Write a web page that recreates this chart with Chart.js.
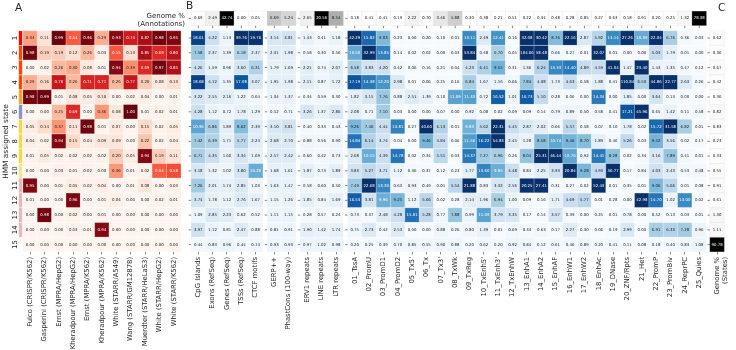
<!DOCTYPE html>
<html>
<head>
<meta charset="utf-8">
<title>HMM state enrichment</title>
<script src="https://cdn.jsdelivr.net/npm/chart.js@4"></script>
<style>
  html, body { margin: 0; padding: 0; background: #fff; }
  canvas { display: block; }
</style>
</head>
<body>
<canvas id="heatmap" width="736" height="350"></canvas>
<script>
// ===================== DATA =====================
const stateLabels = ["1", "2", "3", "4", "5", "6", "7", "8", "9", "10", "11", "12", "13", "14", "15"];
const stateColors = ["#ff0000", "#ff4500", "#ff4500", "#ff4500", "#ffa020", "#8a91d0", "#f8d648", "#f8d648", "#f8d648", "#eee88c", "#e6b8b7", "#e6b8b7", "#e6b8b7", "#e6b8b7", "#ffffff"];

const assayLabels = ["Fulco (CRISPR/K562)", "Gasperini (CRISPR/K562)", "Ernst (MPRA/HepG2)", "Kheradpour (MPRA/HepG2)", "Ernst (MPRA/K562)", "Kheradpour (MPRA/K562)", "White (STARR/A549)", "Wang (STARR/GM12878)", "Muerdter (STARR/HeLaS3)", "White (STARR/HepG2)", "White (STARR/K562)"];
const geneLabels = ["CpG Islands", "Exons (RefSeq)", "Genes (RefSeq)", "TSSs (RefSeq)", "CTCF motifs"];
const consLabels = ["GERP++", "PhastCons (100-way)"];
const repeatLabels = ["ERV1 repeats", "LINE repeats", "LTR repeats"];
const chromLabels = ["01_TssA", "02_PromU", "03_PromD1", "04_PromD2", "05_Tx5'", "06_Tx", "07_Tx3'", "08_TxWk", "09_TxReg", "10_TxEnh5'", "11_TxEnh3'", "12_TxEnhW", "13_EnhA1", "14_EnhA2", "15_EnhAF", "16_EnhW1", "17_EnhW2", "18_EnhAc", "19_DNase", "20_ZNF/Rpts", "21_Het", "22_PromP", "23_PromBiv", "24_ReprPC", "25_Quies"];
const statesLabel = ["Genome %", "(States)"];

const assayValues = [
  [0.34, 0.11, 0.99, 0.54, 0.96, 0.29, 0.93, 0.74, 0.87, 0.98, 0.95],
  [0.98, 0.19, 0.19, 0.12, 0.26, 0.03, 0.55, 0.13, 0.85, 0.69, 0.80],
  [0.00, 0.02, 0.26, 0.30, 0.08, 0.01, 0.94, 0.39, 0.69, 0.97, 0.85],
  [0.29, 0.16, 0.76, 0.26, 0.71, 0.71, 0.26, 0.77, 0.20, 0.08, 0.13],
  [0.98, 0.99, 0.01, 0.08, 0.05, 0.10, 0.00, 0.02, 0.04, 0.00, 0.01],
  [0.00, 0.00, 0.25, 0.69, 0.00, 0.36, 0.08, 1.00, 0.01, 0.02, 0.01],
  [0.05, 0.14, 0.37, 0.11, 0.98, 0.01, 0.07, 0.00, 0.15, 0.02, 0.05],
  [0.04, 0.02, 0.94, 0.15, 0.04, 0.09, 0.09, 0.00, 0.22, 0.02, 0.04],
  [0.01, 0.05, 0.02, 0.02, 0.02, 0.02, 0.20, 0.05, 0.94, 0.19, 0.11],
  [0.00, 0.00, 0.03, 0.01, 0.02, 0.00, 0.36, 0.01, 0.02, 0.54, 0.58],
  [0.95, 0.00, 0.01, 0.05, 0.02, 0.04, 0.00, 0.01, 0.08, 0.00, 0.03],
  [0.01, 0.00, 0.00, 0.96, 0.00, 0.01, 0.04, 0.00, 0.00, 0.02, 0.01],
  [0.00, 0.98, 0.00, 0.02, 0.00, 0.01, 0.00, 0.00, 0.00, 0.00, 0.00],
  [0.00, 0.00, 0.00, 0.03, 0.01, 0.94, 0.00, 0.00, 0.00, 0.00, 0.00],
  [0.00, 0.00, 0.00, 0.00, 0.00, 0.00, 0.00, 0.00, 0.00, 0.00, 0.00]
];

const geneValues = [
  [18.61, 4.22, 1.13, 39.76, 19.76],
  [7.58, 2.37, 1.39, 6.18, 2.37],
  [4.26, 1.59, 0.96, 3.60, 6.31],
  [18.68, 4.12, 1.35, 17.08, 3.07],
  [3.22, 2.55, 2.16, 1.22, 0.64],
  [4.28, 1.12, 0.72, 1.78, 1.29],
  [10.96, 6.86, 1.89, 8.62, 2.39],
  [7.42, 6.39, 1.71, 5.77, 2.24],
  [6.71, 4.35, 1.60, 3.34, 1.69],
  [3.18, 1.32, 1.02, 3.80, 10.20],
  [7.26, 2.01, 1.74, 2.85, 1.03],
  [3.74, 1.78, 1.12, 2.76, 1.67],
  [1.09, 2.85, 2.23, 0.62, 0.52],
  [3.97, 1.12, 0.81, 2.47, 0.88],
  [0.44, 0.83, 0.96, 0.44, 0.74]
];

const consValues = [
  [3.14, 3.81], [2.31, 1.98], [1.79, 1.69], [1.95, 1.98], [1.34, 1.37],
  [0.52, 0.71], [3.10, 3.81], [2.68, 2.70], [2.57, 2.42], [1.68, 1.61],
  [1.63, 1.47], [1.15, 1.26], [1.11, 1.15], [0.81, 0.91], [0.93, 0.93]
];

const repeatValues = [
  [1.43, 0.41, 1.18], [0.58, 0.30, 0.56], [2.21, 0.74, 2.07], [2.11, 0.87, 1.72], [0.34, 0.59, 0.30],
  [3.26, 1.37, 2.86], [0.40, 0.33, 0.43], [0.88, 0.56, 0.90], [0.60, 0.42, 0.73], [1.87, 0.73, 1.89],
  [0.58, 0.60, 0.50], [1.85, 0.84, 1.69], [0.28, 0.57, 0.24], [1.90, 1.42, 1.74], [0.97, 1.02, 0.98]
];

const chromValues = [
  [42.29, 15.82, 9.03, 0.23, 0.00, 0.20, 0.10, 0.01, 13.11, 2.49, 12.41, 0.16, 32.08, 30.42, 8.76, 22.16, 2.87, 5.92, 13.14, 27.26, 10.39, 22.04, 6.76, 0.36, 0.03],
  [10.50, 32.99, 13.85, 0.14, 0.02, 0.02, 0.00, 0.03, 53.84, 0.48, 6.70, 0.05, 104.06, 58.48, 0.66, 0.27, 0.01, 32.07, 0.01, 0.00, 0.00, 5.03, 1.79, 0.01, 0.00],
  [6.58, 3.83, 4.20, 0.42, 0.06, 0.16, 0.21, 0.04, 4.23, 6.41, 9.55, 0.31, 1.36, 6.24, 13.33, 14.40, 4.89, 4.59, 41.04, 1.47, 23.40, 1.43, 1.35, 0.47, 0.12],
  [17.19, 14.38, 12.20, 2.98, 0.01, 0.06, 0.25, 0.16, 6.84, 1.67, 1.16, 0.66, 7.84, 4.08, 1.73, 4.63, 0.58, 1.88, 0.41, 110.84, 6.50, 44.86, 22.77, 2.63, 0.26],
  [1.82, 3.15, 7.76, 0.88, 2.51, 1.39, 0.10, 11.09, 11.33, 0.72, 16.52, 1.01, 16.73, 5.10, 0.28, 0.06, 0.00, 14.34, 0.00, 1.85, 0.00, 3.64, 0.13, 0.00, 0.00],
  [2.08, 0.71, 7.10, 0.03, 0.00, 0.00, 0.07, 0.00, 0.92, 0.08, 0.02, 0.09, 0.09, 0.14, 0.79, 0.89, 0.50, 0.58, 0.41, 17.21, 45.96, 0.65, 1.42, 0.11, 0.58],
  [9.26, 7.46, 4.44, 13.81, 0.27, 40.60, 6.13, 0.01, 9.83, 5.62, 22.31, 4.45, 2.87, 2.02, 0.66, 5.57, 0.58, 0.07, 0.10, 1.78, 0.02, 15.72, 31.58, 6.82, 0.01],
  [14.84, 6.14, 3.74, 0.04, 0.00, 9.46, 4.84, 0.06, 11.56, 16.22, 54.83, 2.45, 1.28, 8.58, 10.74, 9.46, 8.70, 1.89, 0.46, 5.26, 0.03, 9.52, 3.56, 0.02, 0.17],
  [2.68, 10.15, 4.39, 14.78, 0.02, 0.34, 5.51, 0.03, 14.37, 7.27, 6.96, 0.26, 8.04, 25.31, 46.44, 10.76, 0.92, 14.41, 8.28, 0.02, 0.34, 3.16, 7.89, 0.41, 0.01],
  [3.83, 5.27, 3.71, 1.12, 0.36, 0.37, 0.12, 0.23, 1.77, 13.60, 9.95, 4.48, 0.84, 2.25, 3.93, 20.84, 9.28, 4.93, 36.77, 0.17, 0.84, 4.03, 2.43, 0.53, 0.48],
  [7.49, 22.68, 13.30, 0.63, 0.93, 0.49, 0.01, 5.54, 21.88, 0.83, 3.32, 2.56, 20.25, 27.41, 0.31, 0.27, 0.02, 52.43, 0.01, 0.35, 0.01, 9.06, 5.66, 0.01, 0.08],
  [16.53, 3.81, 9.96, 9.25, 1.12, 5.66, 0.02, 0.28, 2.14, 1.96, 6.94, 1.00, 0.09, 0.16, 1.71, 4.69, 5.77, 0.01, 0.28, 0.00, 42.98, 14.70, 1.02, 13.00, 0.02],
  [0.73, 0.37, 2.48, 4.28, 15.01, 5.28, 0.77, 7.88, 0.99, 11.09, 3.79, 3.35, 0.17, 0.14, 3.57, 0.39, 0.00, 0.25, 0.01, 0.78, 0.00, 0.52, 0.13, 0.03, 0.01],
  [0.75, 2.73, 0.42, 2.53, 0.00, 0.00, 0.88, 0.26, 0.80, 1.39, 0.01, 0.69, 0.34, 0.63, 0.17, 2.27, 0.30, 0.06, 0.19, 2.99, 0.00, 6.91, 6.33, 7.28, 0.96],
  [0.20, 0.25, 0.39, 0.70, 0.85, 0.55, 0.90, 0.88, 0.20, 0.62, 0.20, 0.92, 0.84, 0.12, 0.61, 0.46, 0.89, 0.20, 0.41, 0.11, 0.08, 0.18, 0.40, 0.83, 1.08]
];

// Genome % of each annotation (top strip) and of each state (right strip)
const geneGenome = [0.69, 2.49, 42.74, 0.00, 0.05];
const consGenome = [6.69, 5.24];
const repeatGenome = [2.65, 20.56, 8.54];
const chromGenome = [0.18, 0.41, 0.41, 0.19, 2.22, 0.70, 3.46, 5.88, 0.30, 0.38, 0.21, 0.51, 0.22, 0.34, 0.48, 0.28, 0.85, 0.27, 0.63, 0.18, 0.91, 0.20, 0.25, 1.32, 78.38];
const stateGenome = [0.62, 0.36, 0.67, 0.42, 0.36, 0.82, 0.83, 0.23, 0.33, 0.55, 0.91, 0.61, 1.30, 1.11, 90.78];

// ===================== COLOUR MAPS =====================
const REDS = ["#fff5f0", "#fee0d2", "#fcbba1", "#fc9272", "#fb6a4a", "#ef3b2c", "#cb181d", "#a50f15", "#67000d"];
const BLUES = ["#f7fbff", "#deebf7", "#c6dbef", "#9ecae1", "#6baed6", "#4292c6", "#2171b5", "#08519c", "#08306b"];
const GREYS = ["#ffffff", "#f0f0f0", "#d9d9d9", "#bdbdbd", "#969696", "#737373", "#525252", "#252525", "#000000"];

function hexToRgb(hex) {
  return [1, 3, 5].map(i => parseInt(hex.slice(i, i + 2), 16));
}

function colorAt(map, t) {
  const pos = Math.min(Math.max(t, 0), 1) * (map.length - 1);
  const i = Math.min(Math.floor(pos), map.length - 2);
  const a = hexToRgb(map[i]);
  const b = hexToRgb(map[i + 1]);
  return a.map((c, k) => Math.round(c + (b[k] - c) * (pos - i)));
}

// same rule seaborn uses to pick the annotation colour
function textColor(rgb) {
  const lin = rgb.map(c => {
    const s = c / 255;
    return s <= 0.03928 ? s / 12.92 : Math.pow((s + 0.055) / 1.055, 2.4);
  });
  const lum = 0.2126 * lin[0] + 0.7152 * lin[1] + 0.0722 * lin[2];
  return lum > 0.408 ? "#1a1a1a" : "#ffffff";
}

// ===================== COLUMN LAYOUT =====================
const ANNOT_ROW = -0.33; // y position of the Genome % strip, in row units
let nextCol = 0;

function takeColumns(count, gap) {
  nextCol += gap;
  const cols = [];
  for (let i = 0; i < count; i++) cols.push(nextCol + i);
  nextCol += count;
  return cols;
}

const assayCols = takeColumns(assayLabels.length, 0);
const geneCols = takeColumns(geneLabels.length, 0.71);
const consCols = takeColumns(consLabels.length, 0.3);
const repeatCols = takeColumns(repeatLabels.length, 0.3);
const chromCols = takeColumns(chromLabels.length, 0.3);
const stateCols = takeColumns(1, 0.24);

const allCols = [...assayCols, ...geneCols, ...consCols, ...repeatCols, ...chromCols, ...stateCols];
const allLabels = [...assayLabels, ...geneLabels, ...consLabels, ...repeatLabels, ...chromLabels, statesLabel];

function matrixPoints(matrix, cols) {
  const points = [];
  matrix.forEach((row, r) => {
    row.forEach((v, c) => points.push({ x: cols[c], y: r + 1, v }));
  });
  return points;
}

function stripPoints(values, cols) {
  return values.map((v, c) => ({ x: cols[c], y: ANNOT_ROW, v }));
}

function cellDataset(points, map, vmax, edge) {
  return {
    data: points,
    pointStyle: "rect",
    pointRadius: 10.3,
    pointHoverRadius: 10.3,
    pointBorderWidth: 0.25,
    pointBorderColor: edge,
    pointBackgroundColor: ctx => {
      const c = colorAt(map, ctx.raw.v / vmax);
      return `rgb(${c[0]}, ${c[1]}, ${c[2]})`;
    },
    clip: false,
    map,
    vmax
  };
}

const datasets = [
  cellDataset(matrixPoints(assayValues, assayCols), REDS, 1, "#ffffff"),
  cellDataset(matrixPoints(geneValues, geneCols), BLUES, 20, "#ffffff"),
  cellDataset(matrixPoints(consValues, consCols), BLUES, 20, "#ffffff"),
  cellDataset(matrixPoints(repeatValues, repeatCols), BLUES, 20, "#ffffff"),
  cellDataset(matrixPoints(chromValues, chromCols), BLUES, 20, "#ffffff"),
  cellDataset(stripPoints(geneGenome, geneCols), GREYS, 20, "#d8d8d8"),
  cellDataset(stripPoints(consGenome, consCols), GREYS, 20, "#d8d8d8"),
  cellDataset(stripPoints(repeatGenome, repeatCols), GREYS, 20, "#d8d8d8"),
  cellDataset(stripPoints(chromGenome, chromCols), GREYS, 20, "#d8d8d8"),
  cellDataset(stateGenome.map((v, r) => ({ x: stateCols[0], y: r + 1, v })), GREYS, 20, "#d8d8d8")
];

// ===================== PLUGINS =====================
// numbers inside the cells
const cellText = {
  id: "cellText",
  afterDatasetsDraw(chart) {
    const ctx = chart.ctx;
    ctx.save();
    ctx.font = '3.9px "DejaVu Sans"';
    ctx.textAlign = "center";
    ctx.textBaseline = "middle";
    chart.data.datasets.forEach((ds, i) => {
      chart.getDatasetMeta(i).data.forEach((pt, j) => {
        const v = ds.data[j].v;
        ctx.fillStyle = textColor(colorAt(ds.map, v / ds.vmax));
        ctx.fillText(v.toFixed(2), pt.x, pt.y);
      });
    });
    ctx.restore();
  }
};

// state colour bar, the small tick marks of the side panels, and the panel texts
const decorations = {
  id: "decorations",
  afterDraw(chart) {
    const ctx = chart.ctx;
    const xs = chart.scales.x;
    const ys = chart.scales.y;
    const half = Math.abs(ys.getPixelForValue(1) - ys.getPixelForValue(0)) / 2;
    const colHalf = Math.abs(xs.getPixelForValue(1) - xs.getPixelForValue(0)) / 2;
    ctx.save();

    // colour bar left of panel A
    const barRight = xs.getPixelForValue(assayCols[0]) - colHalf - 0.8;
    stateColors.forEach((color, r) => {
      const yc = ys.getPixelForValue(r + 1);
      ctx.fillStyle = color;
      ctx.fillRect(barRight - 3.4, yc - half + 0.3, 3.4, half * 2 - 0.6);
    });

    // ticks on the left of each group
    ctx.strokeStyle = "#333333";
    ctx.lineWidth = 0.6;
    ctx.beginPath();
    [geneCols, consCols, repeatCols, chromCols, stateCols].forEach(cols => {
      const px = xs.getPixelForValue(cols[0]) - colHalf;
      stateLabels.forEach((_, r) => {
        const yc = ys.getPixelForValue(r + 1);
        ctx.moveTo(px - 2.4, yc);
        ctx.lineTo(px, yc);
      });
    });
    [geneCols, repeatCols, chromCols].forEach(cols => {
      const px = xs.getPixelForValue(cols[0]) - colHalf;
      const yc = ys.getPixelForValue(ANNOT_ROW);
      ctx.moveTo(px - 2.4, yc);
      ctx.lineTo(px, yc);
    });
    // ticks under the Genome % strip
    const stripBottom = ys.getPixelForValue(ANNOT_ROW) + half;
    [...geneCols, ...consCols, ...repeatCols, ...chromCols].forEach(c => {
      const px = xs.getPixelForValue(c);
      ctx.moveTo(px, stripBottom);
      ctx.lineTo(px, stripBottom + 2.4);
    });
    ctx.stroke();

    ctx.fillStyle = "#262626";
    ctx.textBaseline = "alphabetic";

    ctx.font = '10.5px "DejaVu Sans"';
    ctx.textAlign = "left";
    ctx.fillText("A", 15, 11);
    ctx.fillText("B", 186, 9);
    ctx.fillText("C", 718, 11);

    ctx.font = '7px "DejaVu Sans"';
    ctx.textAlign = "right";
    ctx.fillText("Genome %", 185, 18);
    ctx.fillText("(Annotations)", 185, 26);

    ctx.translate(8, 141.5);
    ctx.rotate(-Math.PI / 2);
    ctx.textAlign = "center";
    ctx.font = '7.4px "DejaVu Sans"';
    ctx.fillText("HMM assigned state", 0, 0);
    ctx.restore();
  }
};

// ===================== CHART =====================
new Chart(document.getElementById("heatmap"), {
  type: "scatter",
  data: { datasets },
  plugins: [cellText, decorations],
  options: {
    responsive: false,
    animation: false,
    events: [],
    layout: { autoPadding: false, padding: { top: 11, right: 2, left: 0, bottom: 0 } },
    plugins: { legend: { display: false }, tooltip: { enabled: false } },
    scales: {
      x: {
        type: "linear",
        min: -0.5,
        max: nextCol - 0.5,
        afterBuildTicks: scale => { scale.ticks = allCols.map(value => ({ value })); },
        afterFit: scale => { scale.height = 98; },
        border: { display: false },
        grid: { drawOnChartArea: false, drawTicks: true, tickLength: 2.4, tickWidth: 0.6, tickColor: "#333333" },
        ticks: {
          autoSkip: false,
          minRotation: 90,
          maxRotation: 90,
          padding: 2.5,
          color: "#262626",
          font: { family: "DejaVu Sans", size: 6.85 },
          callback: (value, i) => allLabels[i]
        }
      },
      y: {
        type: "linear",
        reverse: true,
        min: ANNOT_ROW - 0.5,
        max: stateLabels.length + 0.5,
        afterBuildTicks: scale => { scale.ticks = stateLabels.map((_, r) => ({ value: r + 1 })); },
        afterFit: scale => { scale.width = 23; },
        border: { display: false },
        grid: { display: false, drawTicks: false },
        ticks: {
          autoSkip: false,
          minRotation: 90,
          maxRotation: 90,
          crossAlign: "center",
          padding: 3,
          color: "#262626",
          font: { family: "DejaVu Sans", size: 6.9 },
          callback: (value, i) => stateLabels[i]
        }
      }
    }
  }
});
</script>
</body>
</html>
